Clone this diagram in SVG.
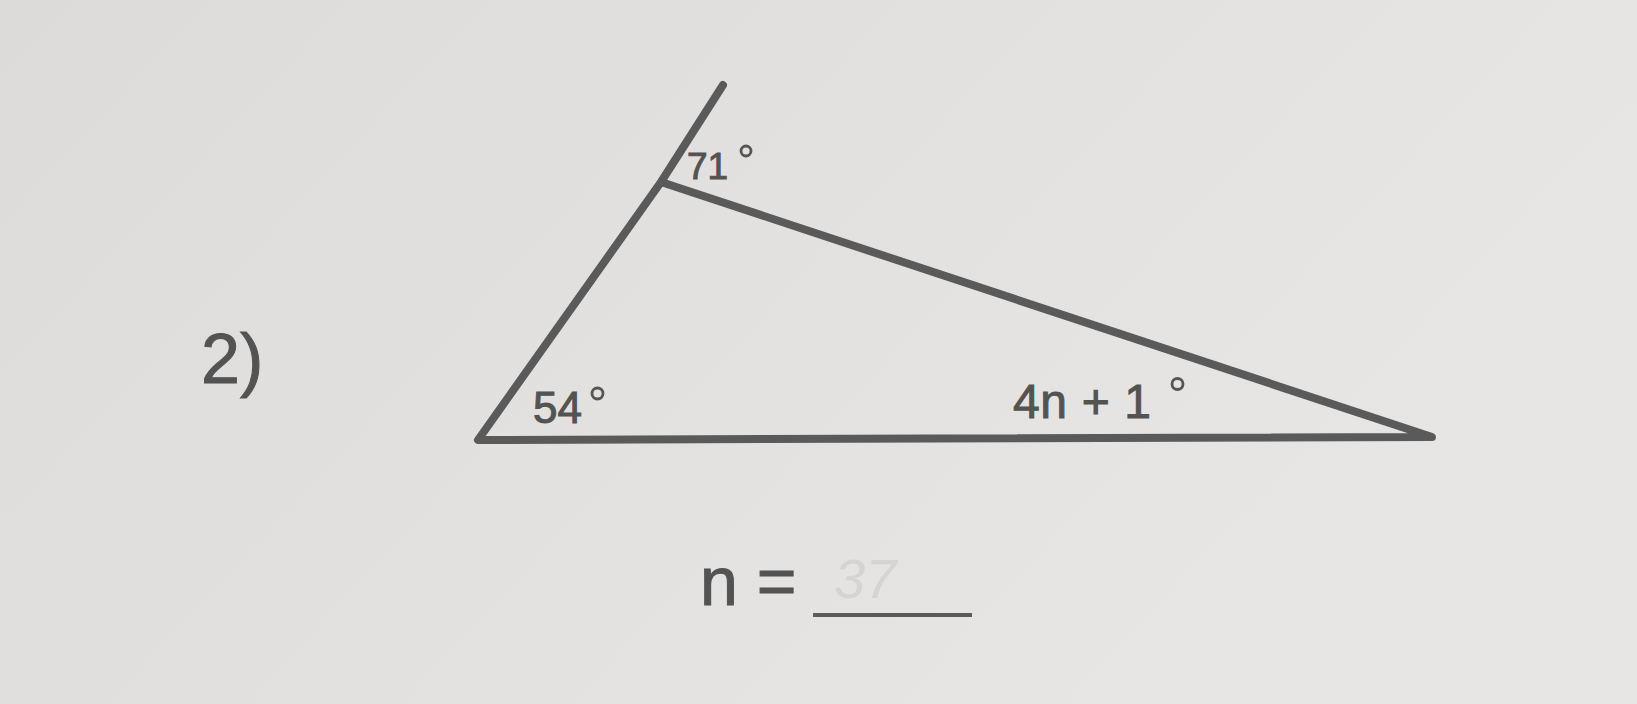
<svg xmlns="http://www.w3.org/2000/svg" width="1637" height="704" viewBox="0 0 1637 704">
<defs>
<linearGradient id="bg" x1="0" y1="0" x2="1" y2="0.4">
<stop offset="0" stop-color="#dcdbd9"/>
<stop offset="0.5" stop-color="#e2e1df"/>
<stop offset="1" stop-color="#e7e6e4"/>
</linearGradient>
<style>
.ln{stroke:#5a5a5a;stroke-width:8;fill:none;stroke-linecap:round;stroke-linejoin:round}
.t{font-family:"Liberation Sans",Arial,sans-serif;fill:#535353;stroke:#535353;stroke-width:1}
.deg{stroke:#555555;stroke-width:2.8;fill:none}
</style>
</defs>
<rect width="1637" height="704" fill="url(#bg)"/>
<g id="triangle">
<polyline class="ln" points="723,85 661,182 478,440 1432,437 661,182"/>
</g>
<g id="labels">
<text class="t" x="201" y="383" font-size="70">2)</text>
<text class="t" x="687" y="179" font-size="37">71</text>
<circle class="deg" cx="746" cy="151" r="5"/>
<text class="t" x="533" y="423" font-size="44">54</text>
<circle class="deg" cx="597.5" cy="393.5" r="5.5"/>
<text class="t" x="1013" y="418" font-size="48" textLength="138" lengthAdjust="spacing">4n + 1</text>
<circle class="deg" cx="1177.5" cy="384" r="5.5"/>
</g>
<g id="answer">
<text class="t" x="700" y="605" font-size="68">n =</text>
<line x1="813" y1="615" x2="972" y2="615" stroke="#5b5b5b" stroke-width="4"/>
<text x="834" y="598" font-size="56" font-family="Liberation Sans,sans-serif" font-style="italic" fill="#d5d4d2">37</text>
</g>
</svg>
